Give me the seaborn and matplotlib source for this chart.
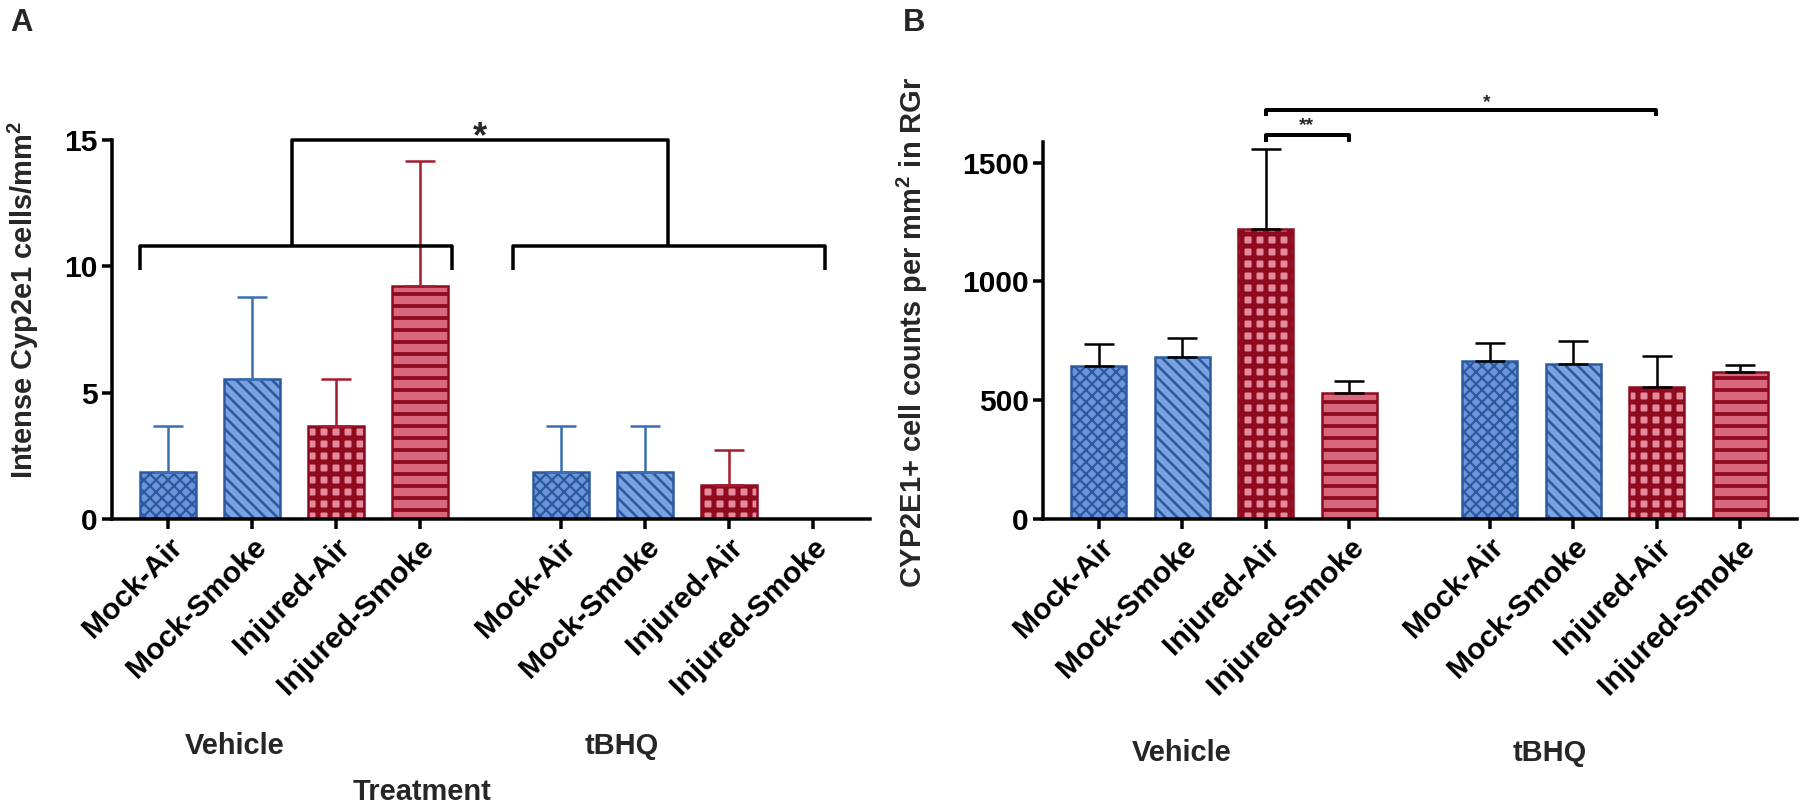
import numpy as np
import pandas as pd
import matplotlib
matplotlib.use("Agg")
import matplotlib.pyplot as plt
import seaborn as sns

# values
groups = ["Vehicle", "tBHQ"]
conditions = ["Mock-Air", "Mock-Smoke", "Injured-Air", "Injured-Smoke"]

# panel A: intense Cyp2e1 cells/mm2 (bar mean, top of error bar)
a_mean = [1.85, 5.55, 3.68, 9.23, 1.85, 1.85, 1.35, 0.0]
a_upper = [3.68, 8.77, 5.55, 14.15, 3.68, 3.68, 2.75, 0.0]

# panel B: CYP2E1+ cell counts per mm2 in RGr
b_mean = [645, 680, 1222, 531, 663, 652, 556, 619]
b_upper = [738, 763, 1558, 580, 739, 748, 686, 650]

# bar styles per condition
fills = ["#6b95d8", "#7aa2e0", "#e58a9a", "#d9687c"]
lines = ["#2c5aa0", "#2c5aa0", "#8f0b20", "#8f0b20"]
hatches = ["xx", "\\\\", "+", "-"]
hatch_widths = [2.2, 2.6, 5.0, 3.8]
err_colors_a = ["#3a6fb2", "#3a6fb2", "#a51b2f", "#a51b2f"]

group_gap = 4.68
positions = [g * group_gap + c for g in range(len(groups)) for c in range(len(conditions))]
tick_labels = conditions * len(groups)

sns.set_theme(style="ticks")
plt.rcParams["font.family"] = ["Liberation Sans", "DejaVu Sans"]
plt.rcParams["font.weight"] = "bold"
plt.rcParams["mathtext.fontset"] = "custom"
plt.rcParams["mathtext.bf"] = "Liberation Sans:bold"
plt.rcParams["mathtext.rm"] = "Liberation Sans:bold"
plt.rcParams["hatch.linewidth"] = 2.6

fig = plt.figure(figsize=(25, 806 / 72), dpi=72)
ax_a = fig.add_axes([0.0622, 0.3561, 0.4211, 0.4702])
ax_b = fig.add_axes([0.5794, 0.3561, 0.4189, 0.4677])


def draw_panel(ax, means, uppers, err_colors, ymax, yticks):
    df = pd.DataFrame({"pos": positions, "value": means})
    sns.barplot(data=df, x="pos", y="value", native_scale=True, width=0.66,
                errorbar=None, color="white", ax=ax)
    for i, bar in enumerate(ax.patches):
        k = i % len(conditions)
        bar.set_facecolor(fills[k])
        bar.set_edgecolor(lines[k])
        bar.set_hatch(hatches[k])
        if hasattr(bar, "set_hatch_linewidth"):
            bar.set_hatch_linewidth(hatch_widths[k])
        bar.set_linewidth(2.5)

    # upper-only error bars
    for i, (x, m, u) in enumerate(zip(positions, means, uppers)):
        if u > m:
            ax.errorbar(x, m, yerr=[[0], [u - m]], fmt="none",
                        ecolor=err_colors[i % len(conditions)],
                        elinewidth=2.5, capsize=15, capthick=2.5)

    ax.set_xlim(-0.667, 8.36)
    ax.set_ylim(0, ymax)
    ax.set_yticks(yticks)
    ax.set_xticks(positions)
    ax.set_xticklabels(tick_labels, rotation=45, ha="right", rotation_mode="anchor")
    ax.set_xlabel("")
    ax.set_ylabel("")
    sns.despine(ax=ax)
    for side in ["left", "bottom"]:
        ax.spines[side].set_linewidth(3.5)
        ax.spines[side].set_color("black")
    ax.tick_params(width=3.5, length=10, labelsize=30, colors="black", pad=4)
    for lab in ax.get_xticklabels() + ax.get_yticklabels():
        lab.set_fontweight("bold")


draw_panel(ax_a, a_mean, a_upper, err_colors_a, 15, [0, 5, 10, 15])
draw_panel(ax_b, b_mean, b_upper, ["black"] * 4, 1587, [0, 500, 1000, 1500])

# group labels under the tick labels
ax_a.text(0.8, -0.598, groups[0], transform=ax_a.get_xaxis_transform(),
          ha="center", va="center", fontsize=29, fontweight="bold")
ax_a.text(5.4, -0.598, groups[1], transform=ax_a.get_xaxis_transform(),
          ha="center", va="center", fontsize=29, fontweight="bold")
ax_a.text(3.02, -0.72, "Treatment", transform=ax_a.get_xaxis_transform(),
          ha="center", va="center", fontsize=29, fontweight="bold")
ax_b.text(1.0, -0.62, groups[0], transform=ax_b.get_xaxis_transform(),
          ha="center", va="center", fontsize=29, fontweight="bold")
ax_b.text(5.4, -0.62, groups[1], transform=ax_b.get_xaxis_transform(),
          ha="center", va="center", fontsize=29, fontweight="bold")

# significance brackets, panel A
bk = dict(color="black", lw=3.5, clip_on=False, solid_capstyle="butt")
ax_a.plot([-0.33, -0.33, 3.38, 3.38], [9.84, 10.8, 10.8, 9.84], **bk)
ax_a.plot([4.11, 4.11, 7.83, 7.83], [9.84, 10.8, 10.8, 9.84], **bk)
ax_a.plot([1.48, 1.48, 5.96, 5.96], [10.8, 15.0, 15.0, 10.8], **bk)
ax_a.text(3.72, 15.1, "*", ha="center", va="center", fontsize=36, fontweight="bold")

# significance brackets, panel B
bk_b = dict(color="black", lw=4, clip_on=False, solid_capstyle="butt")
ax_b.plot([2, 2, 6.67, 6.67], [1697, 1722, 1722, 1697], **bk_b)
ax_b.plot([2, 2, 3, 3], [1587, 1617, 1617, 1587], **bk_b)
ax_b.text(4.64, 1752, "*", ha="center", va="center", fontsize=19, fontweight="bold")
ax_b.text(2.49, 1657, "**", ha="center", va="center", fontsize=19, fontweight="bold")

# axis titles and panel letters
fig.text(0.0128, 0.628, r"Intense Cyp2e1 cells/mm$^{\mathbf{2}}$", rotation=90,
         ha="center", va="center", fontsize=29, fontweight="bold")
fig.text(0.5067, 0.587, r"CYP2E1+ cell counts per mm$^{\mathbf{2}}$ in RGr", rotation=90,
         ha="center", va="center", fontsize=29, fontweight="bold")
fig.text(0.0117, 0.971, "A", ha="center", va="center", fontsize=31, fontweight="bold")
fig.text(0.508, 0.972, "B", ha="center", va="center", fontsize=31, fontweight="bold")

fig.savefig("out.png", dpi=72)
